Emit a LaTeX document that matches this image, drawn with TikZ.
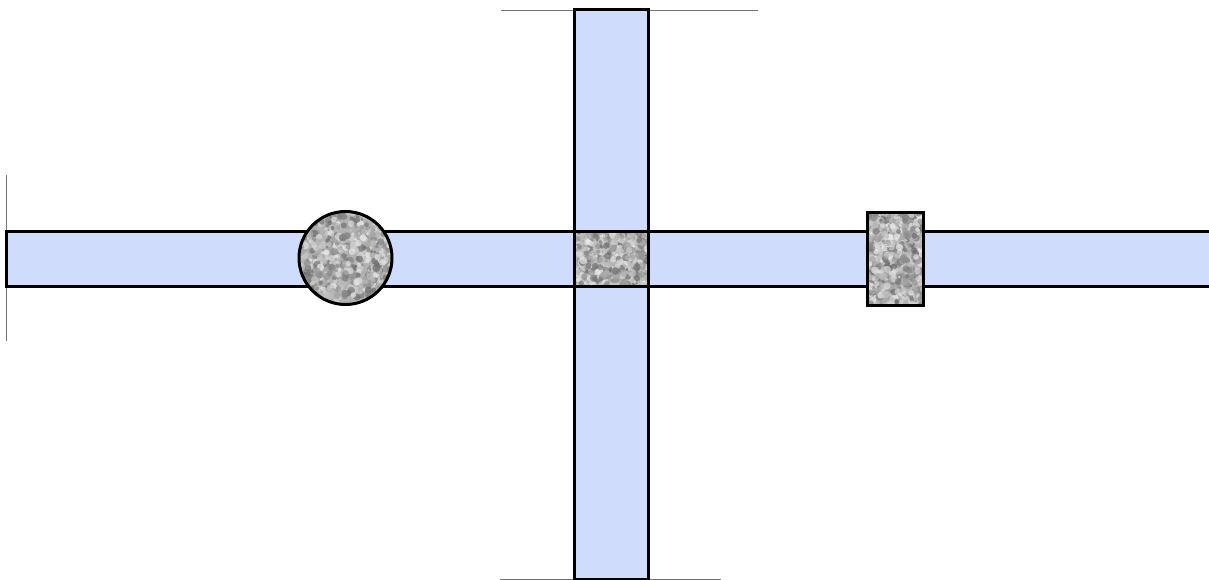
\documentclass[tikz,border=0pt]{standalone}
\usepackage{tikz}
\definecolor{barblue}{RGB}{207,220,252}
\newcommand\granitefill[4]{%
  \fill[black!30] (#1,#2) rectangle (#3,#4);
  \foreach \k in {1,...,700}{%
    \pgfmathsetmacro\px{#1+rnd*(#3-#1)}%
    \pgfmathsetmacro\py{#2+rnd*(#4-#2)}%
    \pgfmathsetmacro\gv{int(5+rnd*55)}%
    \pgfmathsetmacro\rr{1.2+rnd*2.8}%
    \fill[black!\gv,opacity=0.7] (\px,\py) circle (\rr);
  }}
\tikzset{
  border/.style={draw=black,line width=3pt},
  thinline/.style={draw=black!55,line width=1pt},
}
\begin{document}
\begin{tikzpicture}[x=1pt,y=-1pt]
\pgfmathsetseed{4711}
\useasboundingbox (0,0) rectangle (1209,580);
% thin guide lines
\draw[thinline] (501,11) -- (758,11);
\draw[thinline] (500,579) -- (721,579);
\draw[thinline] (6,175) -- (6,341);
% vertical bar
\filldraw[fill=barblue,border] (574,10) rectangle (648,579);
% horizontal bar
\fill[barblue] (6,231) rectangle (1212,286);
\draw[border] (1212,231) -- (6,231) -- (6,286) -- (1212,286);
% centre square
\begin{scope}
  \clip (574,231) rectangle (648,286);
  \granitefill{574}{231}{648}{286}
\end{scope}
\draw[border] (574,231) rectangle (648,286);
% circle
\begin{scope}
  \clip (345.5,258) circle (46.5);
  \granitefill{299}{211}{392}{305}
\end{scope}
\draw[border] (345.5,258) circle (46.5);
% right rectangle
\begin{scope}
  \clip (867,212) rectangle (923,305);
  \granitefill{867}{212}{923}{305}
\end{scope}
\draw[border] (867,212) rectangle (923,305);
\end{tikzpicture}
\end{document}
